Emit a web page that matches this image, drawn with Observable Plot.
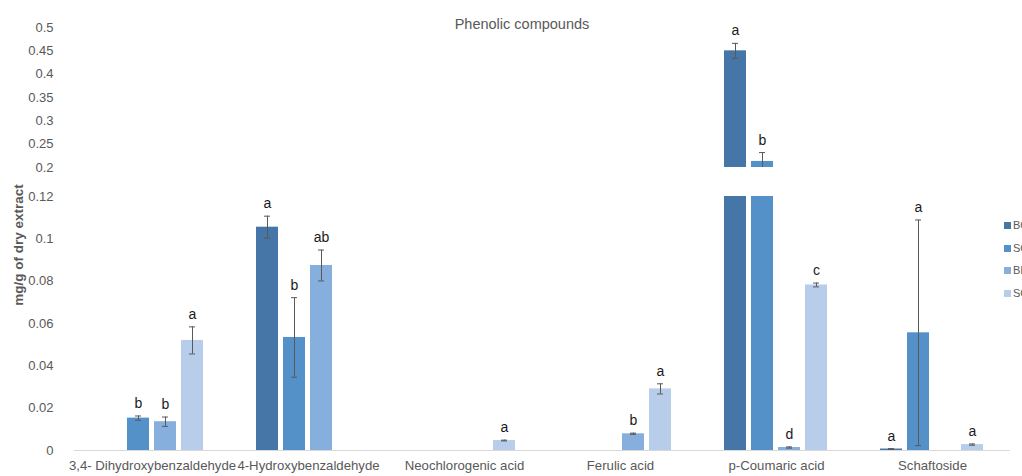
<!DOCTYPE html>
<html><head><meta charset="utf-8">
<script src="https://cdn.jsdelivr.net/npm/d3@7"></script>
<script src="https://cdn.jsdelivr.net/npm/@observablehq/plot@0.6"></script>
<style>
body{margin:0;overflow:hidden;background:#fff;font-family:"Liberation Sans",sans-serif}
#wrap{position:relative;width:1022px;height:476px;overflow:hidden}
#title{position:absolute;left:0;width:1044px;top:16px;text-align:center;font-size:14.5px;color:#595959}
#ylab{position:absolute;left:18px;top:245px;transform:translate(-50%,-50%) rotate(-90deg);white-space:nowrap;font-size:13.5px;font-weight:bold;color:#595959}
#legend{position:absolute;left:1004px;top:219px;font-size:11px;color:#595959}
#legend div{height:22.5px;line-height:12px;white-space:nowrap}
#legend span.sw{display:inline-block;width:7px;height:7px;margin-right:2px;vertical-align:0px}
svg{position:absolute;left:0;top:0}
</style></head>
<body><div id="wrap"><div id="chart"></div><div id="title">Phenolic compounds</div><div id="ylab">mg/g of dry extract</div><div id="legend"></div></div>
<script>
const categories = ["3,4- Dihydroxybenzaldehyde","4-Hydroxybenzaldehyde","Neochlorogenic acid","Ferulic acid","p-Coumaric acid","Schaftoside"];
const series = ["BC","SC","BI","SCI"];
const colors = ["#4675a7","#5591c9","#86afdd","#b8cde9"];
const valuesBC  = [null, 0.1055, null, null, 0.450, 0.0007];
const valuesSC  = [0.0153, 0.0534, null, null, 0.213, 0.0556];
const valuesBI  = [0.0136, 0.0874, null, 0.0079, 0.0014, null];
const valuesSCI = [0.0520, null, 0.0047, 0.0291, 0.0782, 0.0028];
const errorsBC  = [null, 0.0052, null, null, 0.016, 0.0002];
const errorsSC  = [0.0010, 0.0188, null, null, 0.019, 0.0533];
const errorsBI  = [0.0022, 0.0073, null, 0.0003, 0.0003, null];
const errorsSCI = [0.0064, null, 0.0002, 0.0024, 0.0009, 0.0003];
const lettersBC  = [null, "a", null, null, "a", "a"];
const lettersSC  = ["b", "b", null, null, "b", "a"];
const lettersBI  = ["b", "ab", null, "b", "d", null];
const lettersSCI = ["a", null, "a", "a", "c", "a"];
const yTicks = [0, 0.02, 0.04, 0.06, 0.08, 0.1, 0.12, 0.2, 0.25, 0.3, 0.35, 0.4, 0.45, 0.5];
const yTickLabels = ["0","0.02","0.04","0.06","0.08","0.1","0.12","0.2","0.25","0.3","0.35","0.4","0.45","0.5"];
const yBreakLow = 0.12, yBreakHigh = 0.2;

const values = [valuesBC, valuesSC, valuesBI, valuesSCI];
const errors = [errorsBC, errorsSC, errorsBI, errorsSCI];
const letters = [lettersBC, lettersSC, lettersBI, lettersSCI];
const rows = [];
categories.forEach((c, i) => series.forEach((s, j) => {
  const v = values[j][i];
  if (v == null) return;
  const e = errors[j][i] || 0;
  const broken = v > yBreakHigh;
  rows.push({cat: c, ser: s, v, lowTop: Math.min(v, yBreakLow), hi: v + e,
    lo: broken ? Math.max(v - e, yBreakHigh) : v - e, loCap: !(broken && v - e < yBreakHigh), l: letters[j][i]});
}));
const upper = rows.filter(d => d.v > yBreakHigh);

const plot = Plot.plot({
  width: 1022, height: 476,
  marginLeft: 74, marginRight: 12, marginTop: 27, marginBottom: 26,
  style: {fontFamily: "Liberation Sans, sans-serif", background: "transparent"},
  fx: {domain: categories, padding: 0, label: null},
  x: {domain: series, axis: null, paddingInner: 0.18, paddingOuter: 0.88},
  y: {type: "linear", domain: [0, yBreakLow, yBreakHigh, 0.5], range: [450, 196, 167, 27]},
  color: {domain: series, range: colors},
  marks: [
    Plot.axisY({ticks: yTicks, tickSize: 0, tickPadding: 21, fontSize: 13, color: "#595959",
      tickFormat: d => yTickLabels[yTicks.indexOf(d)], label: null}),
    Plot.axisFx({anchor: "bottom", tickSize: 0, tickPadding: 10, fontSize: 13.2, color: "#595959", label: null}),
    Plot.ruleY([0], {stroke: "#d9d9d9", strokeWidth: 1.2}),
    Plot.barY(rows, {fx: "cat", x: "ser", y1: 0, y2: "lowTop", fill: "ser"}),
    Plot.barY(upper, {fx: "cat", x: "ser", y1: yBreakHigh, y2: "v", fill: "ser"}),
    Plot.ruleX(rows, {fx: "cat", x: "ser", y1: "lo", y2: "hi", stroke: "#595959", strokeWidth: 1}),
    Plot.tickY(rows, {fx: "cat", x: "ser", y: "hi", stroke: "#595959", insetLeft: 8, insetRight: 8}),
    Plot.tickY(rows.filter(d => d.loCap), {fx: "cat", x: "ser", y: "lo", stroke: "#595959", insetLeft: 8, insetRight: 8}),
    Plot.text(rows.filter(d => d.l), {fx: "cat", x: "ser", y: "hi", text: "l", lineAnchor: "bottom", dy: -8, fontSize: 14, fill: "#1a1a1a"})
  ]
});
document.getElementById("chart").appendChild(plot);

const lg = document.getElementById("legend");
series.forEach((s, j) => {
  const d = document.createElement("div");
  d.innerHTML = `<span class="sw" style="background:${colors[j]}"></span>${s}`;
  lg.appendChild(d);
});
</script></body></html>
